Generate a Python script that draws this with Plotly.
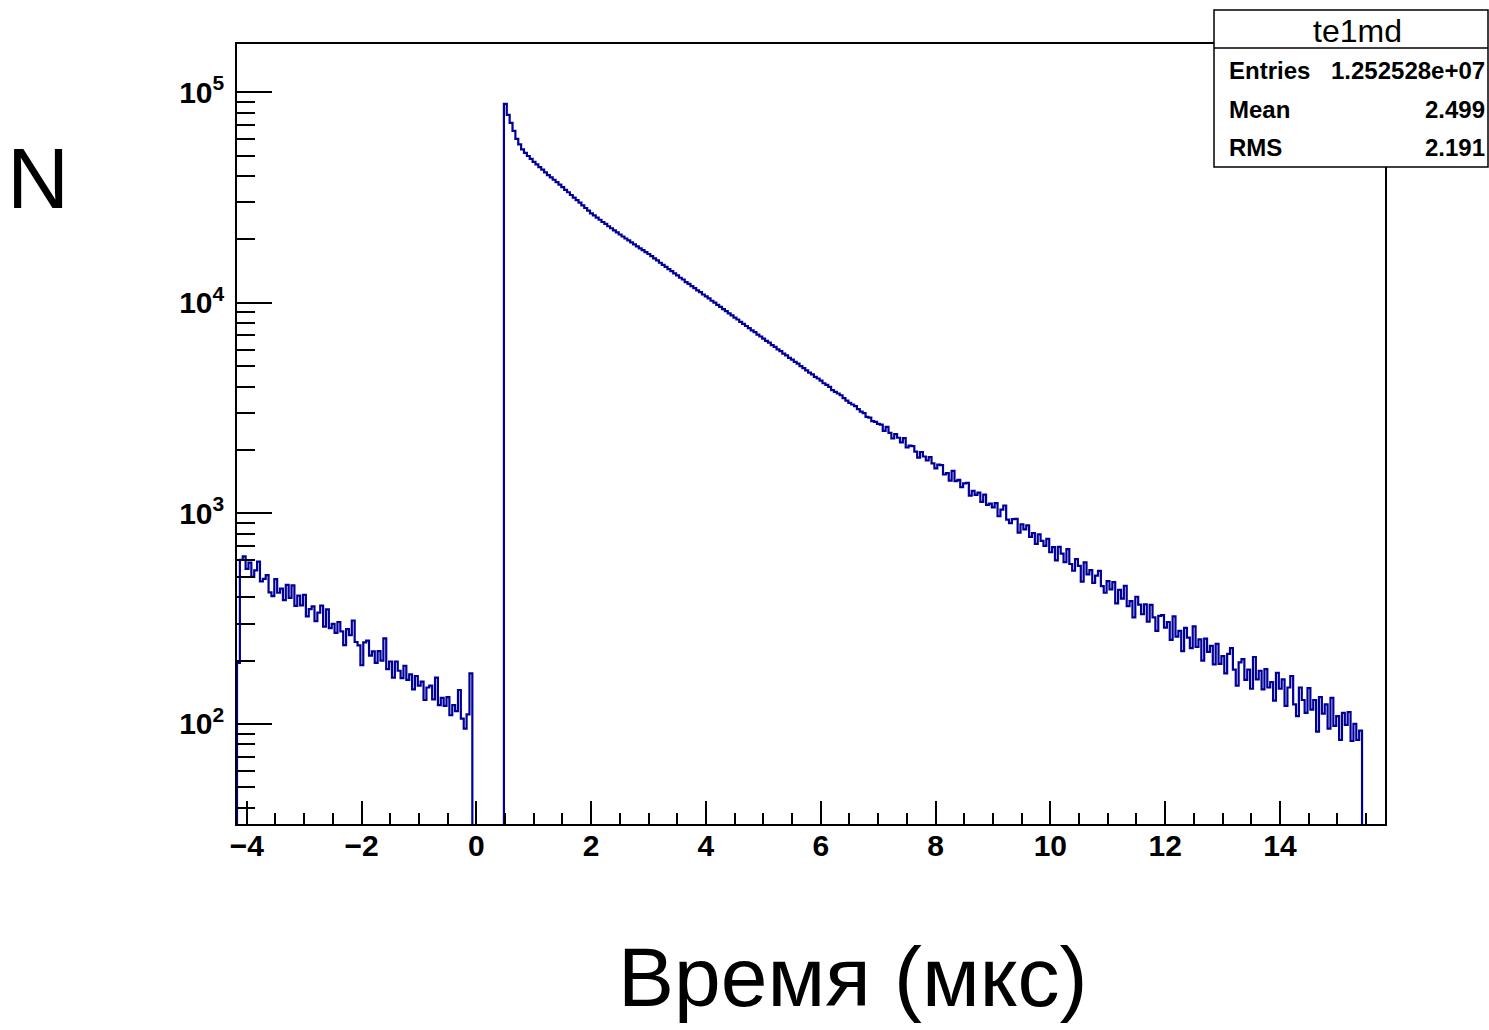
import plotly.graph_objects as go

# ---------------- data ----------------
bin_width = 0.05
x_min, x_max = -4.17, 15.83
left_start = -4.17   # first bin of the pre-zero part
right_start = 0.48   # first bin of the decay part

left_counts = [
    195,
    602, 625, 545, 584, 499, 536, 590, 475, 489, 509,
    422, 405, 487, 420, 439, 387, 458, 397, 455, 364,
    407, 366, 410, 324, 351, 362, 308, 338, 365, 290,
    350, 285, 299, 271, 305, 275, 237, 282, 264, 310,
    245, 236, 190, 244, 249, 211, 221, 195, 222, 200,
    255, 182, 198, 166, 198, 179, 165, 189, 162, 172,
    146, 169, 152, 159, 130, 149, 152, 131, 166, 123,
    133, 122, 134, 110, 123, 115, 145, 106, 95, 111, 174,
]

right_counts = [
    88000, 78000, 71500, 65500, 60000, 56500, 53500, 51500, 49800, 48200,
    46700, 45400, 44100, 42900, 41600, 40400, 39400, 38400, 37400, 36400,
    35400, 34400, 33500, 32500, 31600, 30700, 29900, 29000, 28200, 27400,
    26600, 26000, 25400, 24800, 24200, 23700, 23100, 22600, 22100, 21600,
    21100, 20650, 20200, 19800, 19350, 18950, 18550, 18150, 17800, 17400,
    17050, 16650, 16250, 15900, 15500, 15150, 14800, 14450, 14150, 13800,
    13490, 13150, 12900, 12550, 12300, 12000, 11750, 11450, 11250, 10950,
    10720, 10500, 10230, 10020, 9770, 9560, 9330, 9130, 8900, 8720,
    8510, 8330, 8120, 7950, 7760, 7590, 7400, 7250, 7060, 6920,
    6760, 6590, 6470, 6290, 6170, 6010, 5900, 5740, 5630, 5480,
    5370, 5240, 5140, 5000, 4900, 4780, 4660, 4570, 4450, 4370,
    4270, 4150, 4080, 3990, 3850, 3780, 3710, 3640, 3530, 3430,
    3350, 3290, 3230, 3130, 3040, 2990, 2870, 2850, 2740, 2720,
    2660, 2640, 2467, 2577, 2410, 2271, 2381, 2287, 2176, 2277,
    2055, 2097, 2087, 1963, 1838, 1957, 1863, 1783, 1851, 1726,
    1637, 1706, 1694, 1530, 1552, 1432, 1591, 1422, 1442, 1332,
    1389, 1395, 1214, 1278, 1225, 1256, 1133, 1229, 1097, 1112,
    1067, 1118, 969, 1043, 1090, 935, 900, 940, 942, 810,
    888, 839, 878, 773, 807, 716, 795, 740, 701, 756,
    654, 691, 598, 694, 644, 587, 677, 575, 534, 607,
    563, 474, 585, 513, 538, 468, 506, 533, 451, 420,
    477, 436, 472, 374, 433, 394, 453, 363, 383, 321,
    402, 369, 332, 370, 306, 368, 321, 277, 326, 329,
    287, 305, 251, 324, 260, 277, 222, 286, 257, 229,
    291, 232, 252, 200, 254, 220, 235, 192, 240, 193,
    210, 174, 215, 229, 181, 152, 196, 203, 162, 181,
    147, 208, 163, 179, 146, 182, 149, 158, 129, 175,
    147, 163, 122, 149, 169, 124, 109, 149, 130, 113,
    148, 117, 130, 92, 134, 112, 124, 95, 133, 98,
    109, 84, 113, 99, 114, 83, 100, 84, 93,
]

x_tick_vals = [-4, -2, 0, 2, 4, 6, 8, 10, 12, 14]
y_tick_vals = [1e2, 1e3, 1e4, 1e5]
y_tick_text = ["10<sup>2</sup>", "10<sup>3</sup>", "10<sup>4</sup>", "10<sup>5</sup>"]

stats_title = "te1md"
stats_labels = ["Entries", "Mean", "RMS"]
stats_values = ["1.252528e+07", "2.499", "2.191"]

x_title = "Время (мкс)"
y_title = "N"

# ---------------- build histogram outline ----------------
n_bins = round((x_max - x_min) / bin_width)
counts = [0] * n_bins
i0 = round((left_start - x_min) / bin_width)
for i, c in enumerate(left_counts):
    counts[i0 + i] = c
i1 = round((right_start - x_min) / bin_width)
for i, c in enumerate(right_counts):
    counts[i1 + i] = c

y_floor = 1.0  # empty bins drawn below the visible log range
edges = [x_min + i * bin_width for i in range(n_bins + 1)]
xs = [edges[0]] + edges[:-1] + [edges[-1]]
ys = [y_floor] + [c if c > 0 else y_floor for c in counts] + [y_floor]

LINE = "#000099"

fig = go.Figure()
fig.add_trace(go.Scatter(
    x=xs, y=ys, mode="lines", line=dict(color=LINE, width=2.2, shape="hv"),
    hoverinfo="skip", showlegend=False,
))

# plot area in pixels
W, H = 1489, 1030
PL, PR, PT, PB = 237, 1385, 44, 824


def px(xp):
    return (xp - PL) / (PR - PL)


def py(yp):
    return (PB - yp) / (PB - PT)


minor_y = []
for d in [10, 100, 1000, 10000, 100000]:
    for m in range(2, 10):
        minor_y.append(m * d)

tickfont = dict(family="Liberation Sans, Arial", size=30, color="black", weight="bold")

fig.update_layout(
    width=W, height=H,
    margin=dict(l=PL, r=W - PR, t=PT, b=H - PB),
    paper_bgcolor="white", plot_bgcolor="white",
    xaxis=dict(
        range=[x_min, x_max], showgrid=False, zeroline=False,
        showline=True, linecolor="black", linewidth=1.5, mirror=True,
        ticks="inside", ticklen=23, tickwidth=1.5, tickcolor="black",
        tickvals=x_tick_vals, tickfont=tickfont, ticklabelstandoff=-6,
        minor=dict(ticks="inside", ticklen=11, tickwidth=1.5, tickcolor="black",
                   dtick=0.5, tick0=0, showgrid=False),
    ),
    yaxis=dict(
        type="log", range=[1.525, 5.229], showgrid=False, zeroline=False,
        showline=True, linecolor="black", linewidth=1.5, mirror=True,
        ticks="inside", ticklen=35, tickwidth=1.5, tickcolor="black",
        tickvals=y_tick_vals, ticktext=y_tick_text, tickfont=tickfont,
        ticklabelstandoff=5,
        minor=dict(ticks="inside", ticklen=18, tickwidth=1.5, tickcolor="black",
                   tickvals=minor_y, showgrid=False),
    ),
)

# stats box
bx0, bx1, by_top, by_bot, by_div = 1214, 1488, 10, 167, 48
fig.add_shape(type="rect", xref="paper", yref="paper",
              x0=px(bx0), x1=px(bx1), y0=py(by_bot), y1=py(by_top),
              fillcolor="white", line=dict(color="black", width=1.5), layer="above")
fig.add_shape(type="line", xref="paper", yref="paper",
              x0=px(bx0), x1=px(bx1), y0=py(by_div), y1=py(by_div),
              line=dict(color="black", width=1.5), layer="above")

statfont = dict(family="Liberation Sans, Arial", size=24, color="black", weight="bold")
fig.add_annotation(xref="paper", yref="paper", x=px(1357), y=py(31),
                   text=stats_title, showarrow=False, xanchor="center", yanchor="middle",
                   font=dict(family="Liberation Sans, Arial", size=32, color="black"))
row_y = [70, 109, 148]
for lab, val, ry in zip(stats_labels, stats_values, row_y):
    fig.add_annotation(xref="paper", yref="paper", x=px(1227), y=py(ry), text=lab,
                       showarrow=False, xanchor="left", yanchor="middle", font=statfont)
    fig.add_annotation(xref="paper", yref="paper", x=px(1487), y=py(ry), text=val,
                       showarrow=False, xanchor="right", yanchor="middle", font=statfont)

# axis titles
fig.add_annotation(xref="paper", yref="paper", x=px(38), y=py(178), text=y_title,
                   showarrow=False, xanchor="center", yanchor="middle",
                   font=dict(family="Liberation Sans, Arial", size=86, color="black"))
fig.add_annotation(xref="paper", yref="paper", x=px(852), y=py(977), text=x_title,
                   showarrow=False, xanchor="center", yanchor="middle",
                   font=dict(family="Liberation Sans, Arial", size=84, color="black"))

fig.write_html("out.html")
